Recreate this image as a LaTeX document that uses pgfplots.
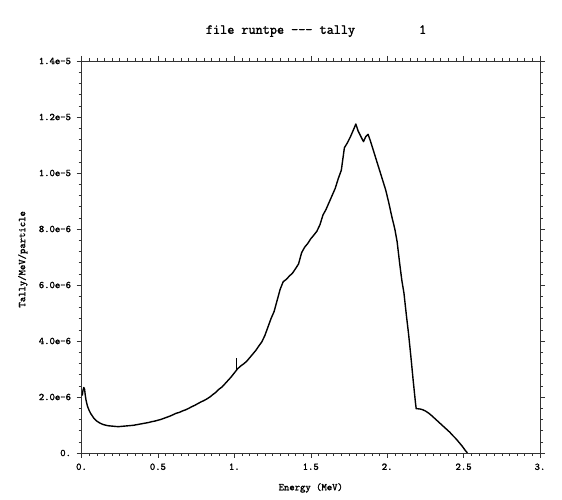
\documentclass[border=0pt]{standalone}
\usepackage{fontspec}
\newfontfamily\courfont[FakeBold=1.6]{Latin Modern Mono}
\usepackage{pgfplots}
\usepackage{pgfplotstable}
\pgfplotsset{compat=1.18}
% y values in units of 1e-6 Tally/MeV/particle
\pgfplotstableread{
x y
0.005 2.05
0.010 2.25
0.015 2.34
0.020 2.28
0.025 2.05
0.030 1.88
0.035 1.76
0.040 1.66
0.050 1.52
0.060 1.41
0.070 1.33
0.080 1.25
0.090 1.19
0.100 1.14
0.120 1.07
0.140 1.02
0.160 0.99
0.180 0.97
0.200 0.96
0.220 0.95
0.240 0.94
0.260 0.95
0.280 0.96
0.300 0.97
0.320 0.98
0.340 0.99
0.360 1.01
0.380 1.03
0.400 1.05
0.420 1.07
0.440 1.09
0.460 1.12
0.480 1.14
0.500 1.17
0.520 1.20
0.540 1.24
0.560 1.28
0.580 1.32
0.600 1.37
0.620 1.42
0.640 1.45
0.660 1.50
0.680 1.54
0.700 1.59
0.720 1.65
0.740 1.70
0.760 1.76
0.780 1.82
0.800 1.87
0.820 1.93
0.840 2.00
0.860 2.09
0.880 2.17
0.900 2.28
0.920 2.36
0.940 2.48
0.960 2.60
0.980 2.72
1.000 2.86
1.020 3.00
1.040 3.10
1.060 3.18
1.080 3.27
1.100 3.40
1.120 3.53
1.140 3.66
1.160 3.82
1.180 3.97
1.200 4.20
1.220 4.50
1.240 4.80
1.260 5.05
1.280 5.45
1.300 5.85
1.320 6.12
1.340 6.20
1.360 6.32
1.380 6.42
1.400 6.58
1.420 6.75
1.440 7.15
1.460 7.35
1.480 7.48
1.500 7.65
1.520 7.78
1.540 7.92
1.560 8.15
1.580 8.50
1.600 8.70
1.620 8.95
1.640 9.20
1.660 9.45
1.680 9.80
1.700 10.10
1.710 10.50
1.720 10.90
1.740 11.08
1.760 11.30
1.780 11.55
1.795 11.75
1.810 11.50
1.830 11.28
1.845 11.12
1.860 11.30
1.875 11.38
1.890 11.15
1.910 10.80
1.930 10.45
1.950 10.10
1.970 9.75
1.990 9.40
2.010 8.95
2.030 8.45
2.050 8.00
2.065 7.55
2.080 6.85
2.095 6.20
2.110 5.70
2.125 4.95
2.140 4.25
2.155 3.45
2.170 2.60
2.185 1.80
2.190 1.58
2.200 1.58
2.215 1.57
2.230 1.55
2.250 1.50
2.270 1.43
2.290 1.34
2.310 1.24
2.330 1.14
2.350 1.04
2.370 0.94
2.390 0.84
2.410 0.74
2.430 0.62
2.450 0.51
2.470 0.38
2.490 0.25
2.510 0.10
2.525 0.00
}\spectrum
\newcommand{\lblfont}{\fontsize{10.2bp}{11bp}\selectfont\courfont}
\begin{document}
\begin{tikzpicture}[x=1bp,y=1bp]
\useasboundingbox (0,0) rectangle (562,500);
\begin{axis}[
  at={(81.5bp,47bp)}, anchor=south west,
  scale only axis, width=458.5bp, height=392bp,
  xmin=0, xmax=3, ymin=0, ymax=14,
  axis line style={black!80, line width=0.6bp},
  tick style={black!80, line width=0.5bp},
  tick align=outside,
  major tick length=5bp, minor tick length=3bp,
  xtick={0,0.5,1,1.5,2,2.5,3},
  xticklabels={0.,0.5,1.,1.5,2.,2.5,3.},
  minor x tick num=9,
  ytick={0,2,4,6,8,10,12,14},
  yticklabels={0.,2.0e-6,4.0e-6,6.0e-6,8.0e-6,1.0e-5,1.2e-5,1.4e-5},
  minor y tick num=4,
  xtick pos=both, ytick pos=both,
  xticklabel pos=lower, yticklabel pos=left,
  tick label style={font=\lblfont},
  xticklabel style={yshift=-2bp},
  yticklabel style={xshift=-2bp},
  xlabel={Energy (MeV)},
  xlabel style={font=\lblfont, at={(rel axis cs:0.5,-0.089)}, anchor=center},
  ylabel={Tally/MeV/particle},
  ylabel style={font=\lblfont, at={(rel axis cs:-0.128,0.494)}, anchor=center},
  title={file runtpe -{}-{}- tally\phantom{xxxxxxxxx}1},
  title style={font=\fontsize{13.8bp}{15bp}\selectfont\courfont, at={(rel axis cs:0.5115,1.061)}, anchor=center},
]
\addplot[black, line width=1.4bp, line join=round] table[x=x,y=y] {\spectrum};
\addplot[black, line width=0.6bp, mark=none, error bars/.cd, y dir=plus, y explicit, error mark=none]
  coordinates {(1.012,2.95) +- (0,0.45)};
\end{axis}
\end{tikzpicture}
\end{document}
